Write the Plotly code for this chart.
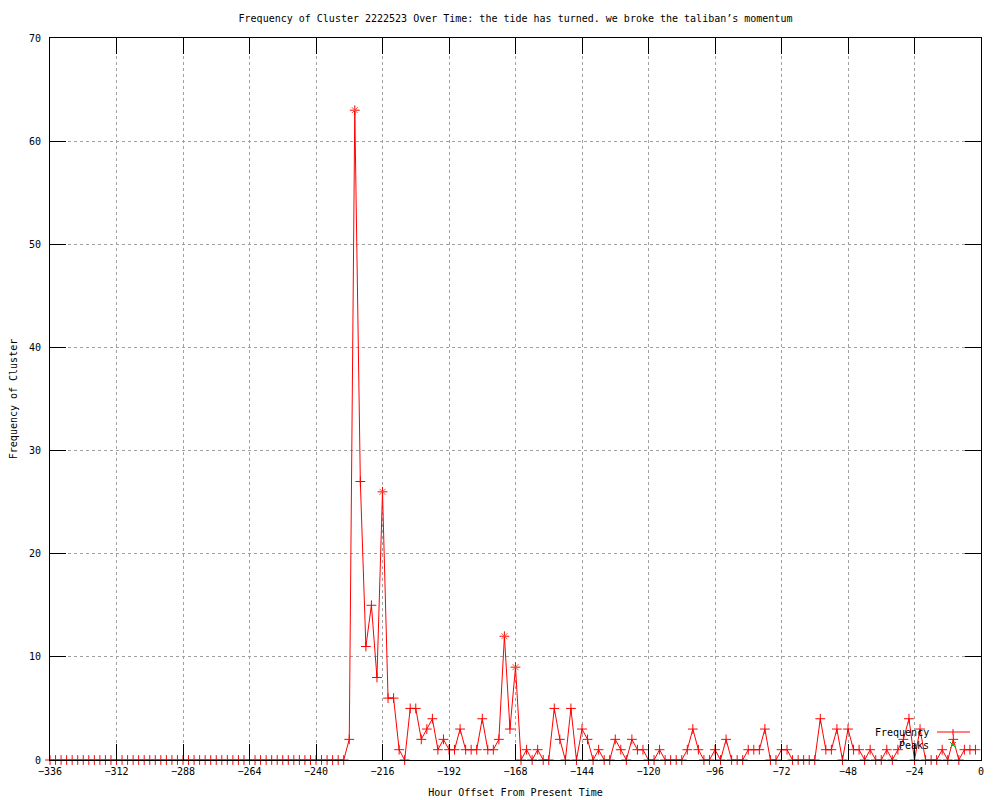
import plotly.graph_objects as go

RED = "#ff0000"
GREEN = "#00c000"
GRID = "#a0a0a0"
FONT = "DejaVu Sans Mono"

# hour offsets, one sample every 2 hours
hours = list(range(-336, 0, 2))

freq = [
    0, 0, 0, 0, 0, 0, 0, 0, 0, 0, 0, 0,   # -336 .. -314
    0, 0, 0, 0, 0, 0, 0, 0, 0, 0, 0, 0,   # -312 .. -290
    0, 0, 0, 0, 0, 0, 0, 0, 0, 0, 0, 0,   # -288 .. -266
    0, 0, 0, 0, 0, 0, 0, 0, 0, 0, 0, 0,   # -264 .. -242
    0, 0, 0, 0, 0, 0,                     # -240 .. -230
    2, 63, 27, 11, 15, 8, 26, 6, 6, 1, 0, 5,   # -228 .. -206
    5, 2, 3, 4, 1, 2, 1, 1, 3, 1, 1, 1,        # -204 .. -182
    4, 1, 1, 2, 12, 3, 9, 0, 1, 0, 1, 0,       # -180 .. -158
    0, 5, 2, 0, 5, 0, 3, 2, 0, 1, 0, 0,        # -156 .. -134
    2, 1, 0, 2, 1, 1, 0, 0, 1, 0, 0, 0,        # -132 .. -110
    0, 1, 3, 1, 0, 0, 1, 0, 2, 0, 0, 0,        # -108 .. -86
    1, 1, 1, 3, 0, 0, 1, 1, 0, 0, 0, 0,        # -84 .. -62
    0, 4, 1, 1, 3, 0, 3, 1, 1, 0, 1, 0,        # -60 .. -38
    0, 1, 0, 1, 2, 4, 0, 3, 0, 0, 0, 1,        # -36 .. -14
    0, 2, 0, 1, 1, 1,                          # -12 .. -2
]

peak_hours = [-226, -216, -172, -168]
peak_vals = [63, 26, 12, 9]

title_text = ("Frequency of Cluster 2222523 Over Time: the tide has turned. "
              "we broke the taliban\u2019s momentum")

# page body has an 8px margin, so the figure is laid out 8px smaller
W, H = 992, 792
L, R, T, B = 42, 19, 30, 40
PW, PH = W - L - R, H - T - B

fig = go.Figure()
fig.add_trace(go.Scatter(
    x=hours, y=freq, name="Frequency", mode="lines+markers",
    line=dict(color=RED, width=1),
    marker=dict(symbol="cross-thin-open", size=7, line=dict(color=RED, width=1)),
    cliponaxis=False, showlegend=False
))
fig.add_trace(go.Scatter(
    x=peak_hours, y=peak_vals, name="Peaks", mode="markers",
    marker=dict(symbol="x-thin-open", size=6, line=dict(color=GREEN, width=1)),
    cliponaxis=False, showlegend=False
))

# gnuplot-style key at the bottom right (text right aligned, sample on the right)
def px_x(p):
    return (p - 8 - L) / PW

def px_y(p):
    return (H - B + 8 - p) / PH

fig.add_annotation(text="Frequency", xref="paper", yref="paper",
                   x=px_x(931), y=px_y(732), xanchor="right", yanchor="middle",
                   showarrow=False, font=dict(family=FONT, size=10, color="black"))
fig.add_annotation(text="Peaks", xref="paper", yref="paper",
                   x=px_x(931), y=px_y(745), xanchor="right", yanchor="middle",
                   showarrow=False, font=dict(family=FONT, size=10, color="black"))
fig.add_shape(type="line", xref="paper", yref="paper",
              x0=px_x(937), x1=px_x(970), y0=px_y(732), y1=px_y(732),
              line=dict(color=RED, width=1))
fig.add_shape(type="line", xref="paper", yref="paper",
              x0=px_x(953), x1=px_x(953), y0=px_y(729), y1=px_y(735),
              line=dict(color=RED, width=1))
fig.add_shape(type="line", xref="paper", yref="paper",
              x0=px_x(950), x1=px_x(956), y0=px_y(742), y1=px_y(748),
              line=dict(color=GREEN, width=1))
fig.add_shape(type="line", xref="paper", yref="paper",
              x0=px_x(950), x1=px_x(956), y0=px_y(748), y1=px_y(742),
              line=dict(color=GREEN, width=1))

axis_common = dict(
    showline=True, linecolor="black", linewidth=1, mirror="allticks",
    ticks="inside", ticklen=16, tickcolor="black", tickwidth=1,
    showgrid=True, gridcolor=GRID, griddash="dot", gridwidth=1,
    zeroline=False, automargin=False,
    tickfont=dict(family=FONT, size=10, color="black"),
)

fig.update_layout(
    width=W, height=H,
    paper_bgcolor="white", plot_bgcolor="white",
    margin=dict(l=L, r=R, t=T, b=B),
    font=dict(family=FONT, size=10, color="black"),
    title=dict(text=title_text, x=0.5, xanchor="center", xref="paper",
               y=1 - 10 / H, yanchor="middle", yref="container",
               font=dict(family=FONT, size=10, color="black")),
    xaxis=dict(range=[-336, 0], tick0=0, dtick=24,
               title=dict(text="Hour Offset From Present Time", standoff=12,
                          font=dict(family=FONT, size=10)),
               ticklabelstandoff=2, **axis_common),
    yaxis=dict(range=[0, 70], tick0=0, dtick=10,
               title=dict(text="Frequency of Cluster", standoff=10,
                          font=dict(family=FONT, size=10)),
               ticklabelstandoff=6, **axis_common),
)

fig.write_html("out.html")
